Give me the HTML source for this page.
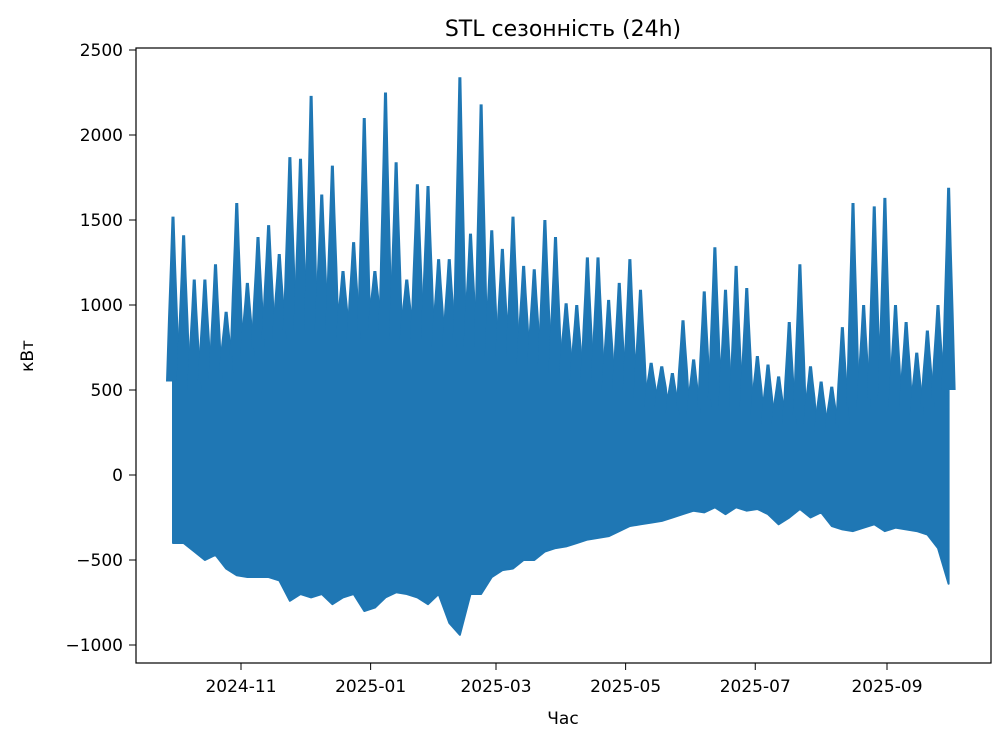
<!DOCTYPE html>
<html><head><meta charset="utf-8"><style>
body{margin:0;background:#fff;}
svg text{font-family:"DejaVu Sans","Liberation Sans",sans-serif;fill:#000;}
</style></head><body>
<svg id="chart" width="1006" height="744" viewBox="0 0 1006 744" xmlns="http://www.w3.org/2000/svg">
<rect width="1006" height="744" fill="#fff"/>
<text x="563" y="36" font-size="22" text-anchor="middle">STL сезонність (24h)</text>
<g id="plot"></g>
<rect x="136" y="48" width="855" height="615" fill="none" stroke="#000" stroke-width="1.2"/>
<g id="yaxis"></g><g id="xaxis"></g>
<text transform="translate(33,356) rotate(-90)" font-size="17" text-anchor="middle">кВт</text>
<text x="563" y="724" font-size="17" text-anchor="middle">Час</text>
</svg>
<script>
const highs=[1520,1410,1150,1150,1240,960,1600,1130,1400,1470,1300,1870,1860,2230,1650,1820,1200,1370,2100,1200,2250,1840,1150,1710,1700,1270,1270,2340,1420,2180,1440,1330,1520,1230,1210,1500,1400,1010,1000,1280,1280,1030,1130,1270,1090,660,640,600,910,680,1080,1340,1090,1230,1100,700,650,580,900,1240,640,550,520,870,1600,1000,1580,1630,1000,900,720,850,1000,1690];
const cores=[600,600,550,600,600,650,750,750,800,850,850,900,900,900,900,900,850,850,900,900,900,850,850,850,850,800,800,850,800,800,750,750,750,700,700,700,650,650,600,600,600,550,550,550,500,450,450,400,450,400,450,500,450,450,450,400,350,350,350,400,350,300,300,350,450,450,500,500,450,450,400,450,500,550];
const lows=[-400,-400,-450,-500,-470,-550,-590,-600,-600,-600,-620,-740,-700,-720,-700,-760,-720,-700,-800,-780,-720,-690,-700,-720,-760,-700,-870,-940,-700,-700,-600,-560,-550,-500,-500,-450,-430,-420,-400,-380,-370,-360,-330,-300,-290,-280,-270,-250,-230,-210,-220,-190,-230,-190,-210,-200,-230,-290,-250,-200,-250,-220,-300,-320,-330,-310,-290,-330,-310,-320,-330,-350,-430,-640];
const startDay=-32, stepDays=5; // days relative to 2024-11-01
const yTicks=[-1000,-500,0,500,1000,1500,2000,2500];
const yTickLabels=["−1000","−500","0","500","1000","1500","2000","2500"];
const xTickDays=[0,61,120,181,242,304];
const xTickLabels=["2024-11","2025-01","2025-03","2025-05","2025-07","2025-09"];
const NS="http://www.w3.org/2000/svg";
const xs=d=>241+d*2.125;
const ys=v=>475-v*0.17;
const plot=document.getElementById('plot');
const upperPts=[],lowerPts=[];
cores.forEach((c,i)=>{const x=xs(startDay+i*stepDays);upperPts.push(x.toFixed(1)+','+ys(c).toFixed(1));});
lows.forEach((l,i)=>{const x=xs(startDay+i*stepDays);lowerPts.unshift(x.toFixed(1)+','+ys(l).toFixed(1));});
const poly=document.createElementNS(NS,'polygon');
poly.setAttribute('points',upperPts.concat(lowerPts).join(' '));
poly.setAttribute('fill','#1f77b4');poly.setAttribute('stroke','#1f77b4');poly.setAttribute('stroke-width','2');poly.setAttribute('stroke-linejoin','round');


plot.appendChild(poly);
highs.forEach((h,i)=>{
 const x=xs(startDay+i*stepDays);
 const c=cores[i];
 const p=document.createElementNS(NS,'polygon');
 const y1=ys(c+(h-c)*0.35), y2=ys(c+(h-c)*0.7), yt=ys(h);
 p.setAttribute('points',(x-7)+','+ys(c-50)+' '+(x-5)+','+y1+' '+(x-3)+','+y2+' '+(x-1.5)+','+yt+' '+(x+1.5)+','+yt+' '+(x+3)+','+y2+' '+(x+5)+','+y1+' '+(x+7)+','+ys(c-50));
 p.setAttribute('fill','#1f77b4');
 
 
 plot.appendChild(p);
});
const ya=document.getElementById('yaxis');
yTicks.forEach((v,i)=>{const y=ys(v);
 const l=document.createElementNS(NS,'line');l.setAttribute('x1',129);l.setAttribute('x2',136);l.setAttribute('y1',y);l.setAttribute('y2',y);l.setAttribute('stroke','#000');
 
 
 ya.appendChild(l);
 const t=document.createElementNS(NS,'text');t.setAttribute('x',123);t.setAttribute('y',y+6);t.setAttribute('font-size','17');t.setAttribute('text-anchor','end');t.textContent=yTickLabels[i];
 
 
 ya.appendChild(t);});
const xa=document.getElementById('xaxis');
xTickDays.forEach((d,i)=>{const x=xs(d);
 const l=document.createElementNS(NS,'line');l.setAttribute('x1',x);l.setAttribute('x2',x);l.setAttribute('y1',663);l.setAttribute('y2',670);l.setAttribute('stroke','#000');
 
 
 xa.appendChild(l);
 const t=document.createElementNS(NS,'text');t.setAttribute('x',x);t.setAttribute('y',692);t.setAttribute('font-size','17');t.setAttribute('text-anchor','middle');t.textContent=xTickLabels[i];
 
 
 xa.appendChild(t);});
</script>
</body></html>
